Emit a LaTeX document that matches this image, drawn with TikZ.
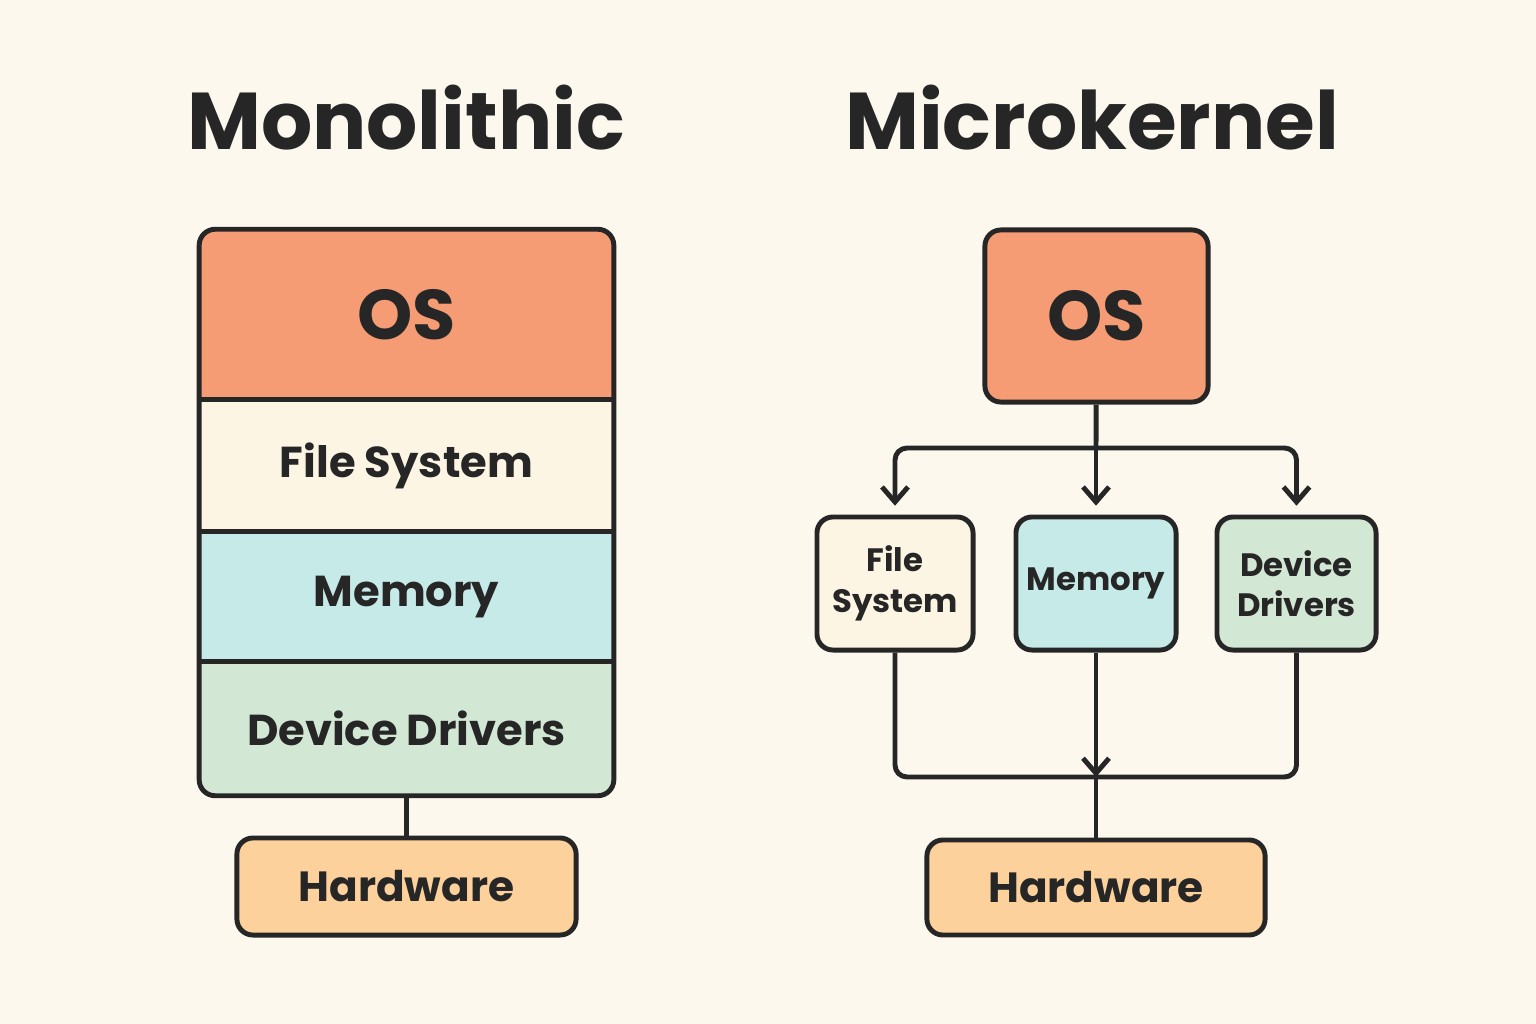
\documentclass[tikz,border=0pt]{standalone}
\usepackage{fontspec}
\setmainfont{Poppins}
\usetikzlibrary{arrows.meta}
\usepackage{xcolor}

\definecolor{bgc}{HTML}{FDF8EE}
\definecolor{ink}{HTML}{262626}
\definecolor{osc}{HTML}{F69C74}
\definecolor{fsc}{HTML}{FDF5E4}
\definecolor{memc}{HTML}{C5EAE8}
\definecolor{ddc}{HTML}{D2E8D4}
\definecolor{hwc}{HTML}{FCD19B}

\tikzset{
    layer/.style={rectangle, draw=none, inner sep=0pt, text=ink, minimum width=4.13cm, font=\bfseries\fontsize{12.3}{15}\selectfont},
    box/.style={rectangle, rounded corners=0.16cm, draw=ink, line width=1.4pt, inner sep=0pt, text=ink, align=center},
    small/.style={box, font=\bfseries\fontsize{9.2}{11.5}\selectfont, minimum height=1.33cm},
    title/.style={text=ink, font=\bfseries\fontsize{22.9}{27}\selectfont},
    wire/.style={ink, line width=1.4pt, line join=round},
    arr/.style={wire, -{Straight Barb[length=1.5mm,width=2.6mm,line width=1.4pt]}}
}

\begin{document}
\begin{tikzpicture}[x=0.01cm, y=-0.01cm]
        \fill[bgc] (0,0) rectangle (1536,1024);
        \useasboundingbox (0,0) rectangle (1536,1024);

        \node[title] (monotitle) at (406,118) {Monolithic};
        \node[title] (microtitle) at (1092,118) {Microkernel};

        % monolithic stack
        \begin{scope}
            \clip[rounded corners=0.16cm] (200,230) rectangle (613,795);
            \node[layer, fill=osc, minimum height=1.70cm, font=\bfseries\fontsize{20}{24}\selectfont] (os) at (406.5,315) {OS};
            \node[layer, fill=fsc, minimum height=1.32cm] (fs) at (406.5,466) {File System};
            \node[layer, fill=memc, minimum height=1.30cm] (mem) at (406.5,597) {Memory};
            \node[layer, fill=ddc, minimum height=1.33cm] (dd) at (406.5,728.5) {Device Drivers};
        \end{scope}
        \draw[wire] (fs.north west) -- (fs.north east);
        \draw[wire] (mem.north west) -- (mem.north east);
        \draw[wire] (dd.north west) -- (dd.north east);
        \draw[wire, rounded corners=0.16cm] (os.north west) rectangle (dd.south east);

        \node[box, fill=hwc, minimum width=3.39cm, minimum height=0.97cm, font=\bfseries\fontsize{12}{15}\selectfont] (hw) at (406.5,886.5) {Hardware};
        \draw[wire] (dd) -- (hw);

        % microkernel
        \node[box, fill=osc, minimum width=2.23cm, minimum height=1.72cm, font=\bfseries\fontsize{20}{24}\selectfont] (os2) at (1096.5,316) {OS};
        \node[small, fill=fsc, minimum width=1.56cm] (fs2) at (895,583.5) {File\\System};
        \node[small, fill=memc, minimum width=1.60cm] (mem2) at (1096,583.5) {Memory};
        \node[small, fill=ddc, minimum width=1.59cm] (dd2) at (1296.5,583.5) {Device\\Drivers};
        \node[box, fill=hwc, minimum width=3.38cm, minimum height=0.95cm, font=\bfseries\fontsize{12}{15}\selectfont] (hw2) at (1096,887.5) {Hardware};

        \coordinate (split) at (1096,448);
        \coordinate (join) at (1096,777);
        \draw[wire] (os2) -- (split);
        \draw[arr, shorten >=2.5pt] (split) -- (mem2);
        \draw[arr, rounded corners=0.12cm, shorten >=2.5pt] (split) -| (fs2);
        \draw[arr, rounded corners=0.12cm, shorten >=2.5pt] (split) -| (dd2);

        \draw[wire, rounded corners=0.12cm] (fs2) |- (join) -| (dd2);
        \draw[arr] (mem2) -- (join);
        \draw[wire] (join) -- (hw2);
    \end{tikzpicture}
\end{document}
